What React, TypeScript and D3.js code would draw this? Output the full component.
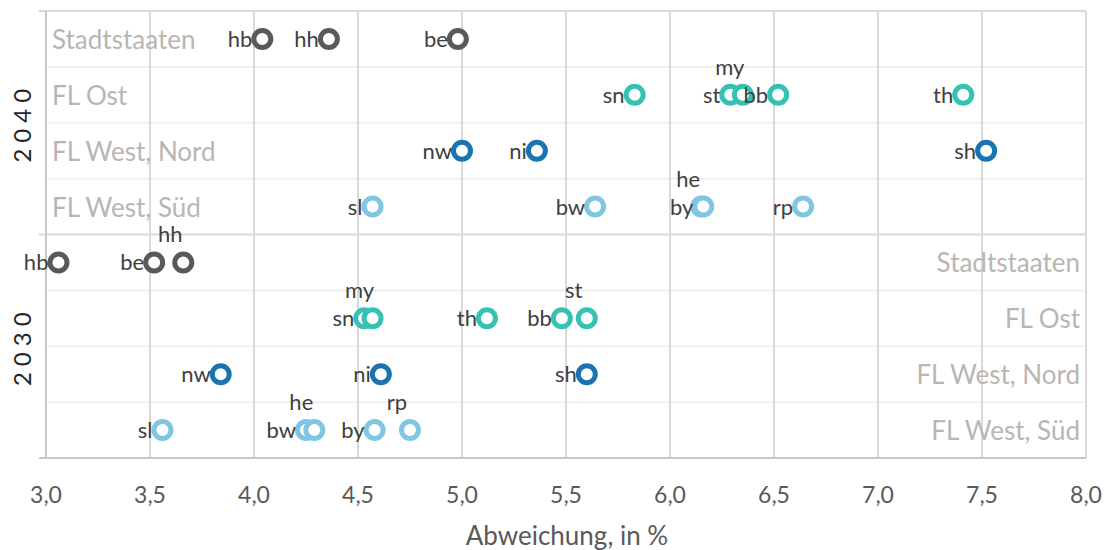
import React from "react";
import * as d3 from "d3";

// ---------- DATA ----------
const years = ["2040", "2030"];
const regions = ["Stadtstaaten", "FL Ost", "FL West, Nord", "FL West, Süd"];
const xTicks = [3.0, 3.5, 4.0, 4.5, 5.0, 5.5, 6.0, 6.5, 7.0, 7.5, 8.0];

const stadt2040Codes = ["hb", "hh", "be"];
const stadt2040Values = [4.04, 4.36, 4.98];
const ost2040Codes = ["sn", "st", "my", "bb", "th"];
const ost2040Values = [5.83, 6.29, 6.35, 6.52, 7.41];
const nord2040Codes = ["nw", "ni", "sh"];
const nord2040Values = [5.0, 5.36, 7.52];
const sued2040Codes = ["sl", "bw", "he", "by", "rp"];
const sued2040Values = [4.57, 5.64, 6.15, 6.16, 6.64];

const stadt2030Codes = ["hb", "be", "hh"];
const stadt2030Values = [3.06, 3.52, 3.66];
const ost2030Codes = ["sn", "my", "th", "bb", "st"];
const ost2030Values = [4.53, 4.57, 5.12, 5.48, 5.6];
const nord2030Codes = ["nw", "ni", "sh"];
const nord2030Values = [3.84, 4.61, 5.6];
const sued2030Codes = ["sl", "bw", "he", "by", "rp"];
const sued2030Values = [3.56, 4.25, 4.29, 4.58, 4.75];

// labels placed above their marker instead of to the left
const labelsAbove = ["2040-my", "2040-he", "2030-hh", "2030-my", "2030-st", "2030-he", "2030-rp"];

const regionColors = ["#595959", "#36c1b3", "#1a74b2", "#80c6e2"];

const series = [
  { year: "2040", region: 0, codes: stadt2040Codes, values: stadt2040Values },
  { year: "2040", region: 1, codes: ost2040Codes, values: ost2040Values },
  { year: "2040", region: 2, codes: nord2040Codes, values: nord2040Values },
  { year: "2040", region: 3, codes: sued2040Codes, values: sued2040Values },
  { year: "2030", region: 0, codes: stadt2030Codes, values: stadt2030Values },
  { year: "2030", region: 1, codes: ost2030Codes, values: ost2030Values },
  { year: "2030", region: 2, codes: nord2030Codes, values: nord2030Values },
  { year: "2030", region: 3, codes: sued2030Codes, values: sued2030Values },
];

// ---------- LAYOUT ----------
const W = 1109;
const H = 550;
const left = 46;
const right = 1086;
const top = 11;
const bottom = 458;
const FONT = "Lato, 'Open Sans', sans-serif";

export default function App() {
  const x = d3.scaleLinear().domain([3, 8]).range([left, right]);
  const rowKeys = years.flatMap((yr) => regions.map((r) => `${yr}|${r}`));
  const y = d3.scaleBand().domain(rowKeys).range([top, bottom]).paddingInner(0).paddingOuter(0);
  const bw = y.bandwidth();
  const yearBand = d3.scaleBand().domain(years).range([top, bottom]);
  const fmt = (v: number) => d3.format(".1f")(v).replace(".", ",");

  const points = series.flatMap((s) =>
    s.values.map((v, i) => ({
      year: s.year,
      code: s.codes[i],
      value: v,
      color: regionColors[s.region],
      cy: (y(`${s.year}|${regions[s.region]}`) as number) + bw / 2,
      cx: x(v),
    }))
  );

  const r = 8.5;
  return (
    <svg width={W} height={H} style={{ position: "absolute", left: 0, top: 0, background: "#fff" }}>
      {/* horizontal row lines */}
      {rowKeys.map((k, i) =>
        i % 4 === 0 ? null : (
          <line key={"h" + k} x1={left} x2={right} y1={y(k)} y2={y(k)} stroke="#efefef" strokeWidth={2} />
        )
      )}
      {/* vertical gridlines */}
      {xTicks.slice(1).map((t) => (
        <line key={"v" + t} x1={x(t)} x2={x(t)} y1={top} y2={bottom} stroke="#d9d9d9" strokeWidth={2} />
      ))}
      {/* group boundaries */}
      {years.map((yr) => (
        <line key={"g" + yr} x1={left - 7} x2={right} y1={yearBand(yr)} y2={yearBand(yr)} stroke="#d9d9d9" strokeWidth={2} />
      ))}
      {/* axes */}
      <line x1={left} x2={left} y1={top} y2={bottom} stroke="#c8c8c8" strokeWidth={2} />
      <line x1={left - 7} x2={right} y1={bottom} y2={bottom} stroke="#c8c8c8" strokeWidth={2} />

      {/* region labels */}
      {regions.map((rg) => (
        <text key={"l40" + rg} x={left + 6} y={(y(`2040|${rg}`) as number) + bw / 2 + 10} fontFamily={FONT} fontSize={26} fill="#b9b6b2">
          {rg}
        </text>
      ))}
      {regions.map((rg) => (
        <text key={"l30" + rg} x={right - 6} y={(y(`2030|${rg}`) as number) + bw / 2 + 10} fontFamily={FONT} fontSize={26} fill="#b9b6b2" textAnchor="end">
          {rg}
        </text>
      ))}

      {/* year labels */}
      {years.map((yr) => {
        const cy = (yearBand(yr) as number) + yearBand.bandwidth() / 2;
        return (
          <text key={"y" + yr} transform={`translate(31,${cy}) rotate(-90)`} textAnchor="middle" fontFamily={FONT} fontSize={24} letterSpacing={6} fill="#262626">
            {yr}
          </text>
        );
      })}

      {/* markers */}
      {points.map((p, i) => (
        <circle key={"c" + i} cx={p.cx} cy={p.cy} r={r} fill="#fff" stroke={p.color} strokeWidth={5} />
      ))}
      {/* data labels */}
      {points.map((p, i) => {
        const above = labelsAbove.includes(`${p.year}-${p.code}`);
        return above ? (
          <text key={"t" + i} x={p.cx - 13} y={p.cy - 20} textAnchor="middle" fontFamily={FONT} fontSize={22} fill="#404040">
            {p.code}
          </text>
        ) : (
          <text key={"t" + i} x={p.cx - 10} y={p.cy + 8} textAnchor="end" fontFamily={FONT} fontSize={22} fill="#404040">
            {p.code}
          </text>
        );
      })}

      {/* x tick labels */}
      {xTicks.map((t) => (
        <text key={"x" + t} x={x(t)} y={503} textAnchor="middle" fontFamily={FONT} fontSize={23} fill="#595959">
          {fmt(t)}
        </text>
      ))}
      <text x={(left + right) / 2 + 1} y={545} textAnchor="middle" fontFamily={FONT} fontSize={26} fill="#595959">
        Abweichung, in %
      </text>
    </svg>
  );
}
